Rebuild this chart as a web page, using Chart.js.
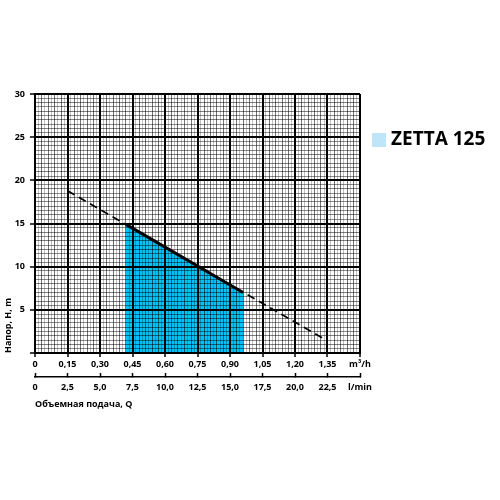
<!DOCTYPE html>
<html>
<head>
<meta charset="utf-8">
<script src="https://cdn.jsdelivr.net/npm/chart.js@4/dist/chart.umd.min.js"></script>
<style>
  html, body { margin: 0; padding: 0; background: #fff; }
  #wrap { width: 500px; height: 500px; }
</style>
</head>
<body>
<div id="wrap"><canvas id="js-pump-chart"></canvas></div>
<script>
// pump curve, flow in m3/h, head in m
var seriesName = "ZETTA 125"
var curveFlow = [0.15, 1.35]
var curveHead = [18.8, 1.4]
var workFlow = [0.42, 0.96]
var workHead = [14.9, 7.0]

var xTickLabels = ["0", "0,15", "0,30", "0,45", "0,60", "0,75", "0,90", "1,05", "1,20", "1,35", "m³/h"]
var lpmTickLabels = ["0", "2,5", "5,0", "7,5", "10,0", "12,5", "15,0", "17,5", "20,0", "22,5", "l/min"]
var yTickLabels = ["", "5", "10", "15", "20", "25", "30"]

var X_STEP = 0.015, Y_STEP = 0.5
var axisFont = { family: "Open Sans", weight: "bold", size: 9 }

function points(xs, ys) {
  return xs.map(function (x, i) { return { x: x, y: ys[i] } })
}

// grid level: 2 = major, 1 = middle, 0 = fine
function level(value, step) {
  var i = Math.round(value / step)
  if (i % 10 === 0) return 2
  if (i % 2 === 0) return 1
  return 0
}
// translucent black so crossing lines never lighten the thick ones
function gridColor(step, mid, fine) {
  return function (c) {
    var l = level(c.tick.value, step)
    return l === 2 ? "#000" : (l === 1 ? mid : fine)
  }
}
function gridWidth(step) {
  return function (c) { return level(c.tick.value, step) === 2 ? 2 : 1 }
}
function tickColor(step) {
  return function (c) { return level(c.tick.value, step) === 2 ? "#000" : "rgba(0,0,0,0)" }
}
function denseTicks(step, count) {
  return function (scale) {
    var t = []
    for (var i = 0; i <= count; i++) t.push({ value: i * step })
    scale.ticks = t
  }
}

var sideLegend = {
  id: "sideLegend",
  afterDraw: function (chart) {
    var c = chart.ctx, area = chart.chartArea
    c.save()
    c.fillStyle = "#bfe6f8"
    c.fillRect(area.right + 12, 133, 14, 14)
    c.fillStyle = "#000"
    c.font = "bold 19px 'Open Sans'"
    c.textBaseline = "middle"
    c.fillText(chart.data.datasets[0].label, area.right + 31, 140)
    c.restore()
  }
}

var ctx = document.getElementById("js-pump-chart")

var chart = new Chart(ctx, {
  type: "line",
  data: {
    datasets: [
      {
        label: seriesName,
        data: points(workFlow, workHead),
        xAxisID: "x",
        borderColor: "#000",
        borderWidth: 3,
        backgroundColor: "#00c3f5",
        fill: "origin",
        pointRadius: 0
      },
      {
        label: "curve",
        data: points(curveFlow, curveHead),
        xAxisID: "x",
        borderColor: "#000",
        borderWidth: 1.6,
        borderDash: [8, 5],
        fill: false,
        pointRadius: 0
      }
    ]
  },
  options: {
    responsive: true,
    maintainAspectRatio: false,
    animation: false,
    layout: {
      padding: { top: 94, right: 140, bottom: 86, left: 0 }
    },
    plugins: {
      legend: { display: false },
      tooltip: { enabled: false },
      filler: { drawTime: "beforeDraw" }
    },
    scales: {
      x: {
        type: "linear",
        position: "bottom",
        min: 0,
        max: 1.5,
        afterBuildTicks: denseTicks(X_STEP, 100),
        afterFit: function (s) { s.height = 24 },
        grid: {
          color: gridColor(X_STEP, "rgba(0,0,0,0.55)", "rgba(0,0,0,0.25)"),
          lineWidth: gridWidth(X_STEP),
          tickColor: tickColor(X_STEP),
          tickWidth: 1.5,
          tickLength: 4
        },
        border: { color: "#000", width: 2 },
        ticks: {
          autoSkip: false,
          maxRotation: 0,
          padding: 2,
          color: "#000",
          font: axisFont,
          callback: function (v, i) { return i % 10 === 0 ? xTickLabels[i / 10] : "" }
        }
      },
      x2: {
        type: "linear",
        axis: "x",
        position: "bottom",
        min: 0,
        max: 25,
        afterFit: function (s) { s.height = 37 },
        grid: {
          drawOnChartArea: false,
          tickColor: "#000",
          tickWidth: 1.5,
          tickLength: -4
        },
        border: { color: "#000", width: 1.5 },
        ticks: {
          stepSize: 2.5,
          autoSkip: false,
          maxRotation: 0,
          padding: 9,
          color: "#000",
          font: axisFont,
          callback: function (v, i) { return lpmTickLabels[i] }
        },
        title: {
          display: true,
          text: "Объемная подача, Q",
          align: "start",
          color: "#000",
          font: axisFont,
          padding: { top: 4, bottom: 4 }
        }
      },
      y: {
        type: "linear",
        position: "left",
        min: 0,
        max: 30,
        afterBuildTicks: denseTicks(Y_STEP, 60),
        afterFit: function (s) { s.width = 35 },
        grid: {
          color: gridColor(Y_STEP, "rgba(0,0,0,0.5)", "rgba(0,0,0,0.45)"),
          lineWidth: gridWidth(Y_STEP),
          tickColor: tickColor(Y_STEP),
          tickWidth: 1.5,
          tickLength: 5
        },
        border: { color: "#000", width: 2 },
        ticks: {
          autoSkip: false,
          padding: 5,
          color: "#000",
          font: axisFont,
          callback: function (v, i) { return i % 10 === 0 ? yTickLabels[i / 10] : "" }
        },
        title: {
          display: true,
          text: "Напор, H, m",
          align: "start",
          color: "#000",
          font: axisFont,
          padding: { top: 3, bottom: 0 }
        }
      }
    }
  },
  plugins: [sideLegend]
})
</script>
</body>
</html>
